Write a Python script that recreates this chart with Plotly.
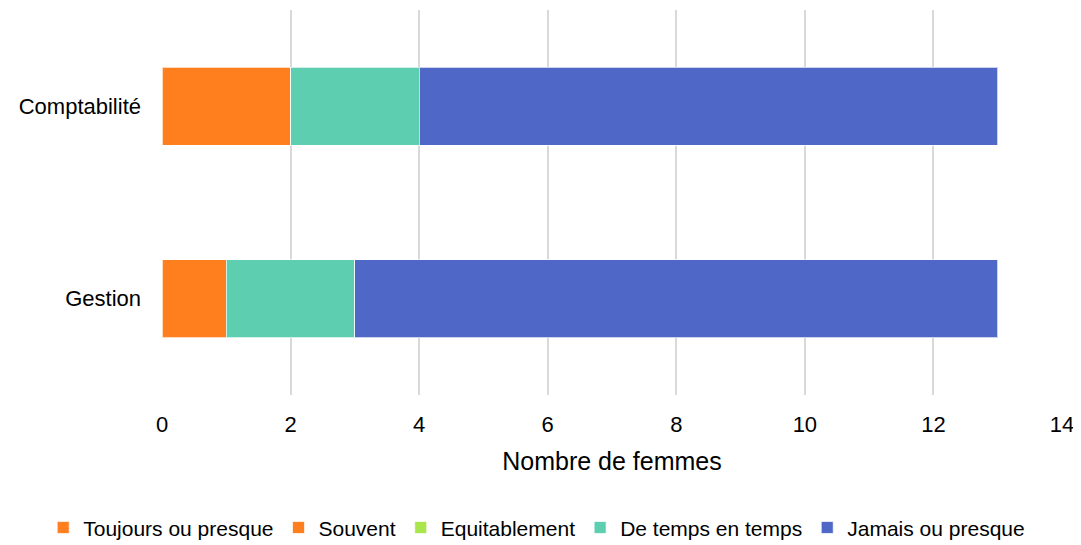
import plotly.graph_objects as go

categories = ["Gestion", "Comptabilité"]
series_names = ["Toujours ou presque", "Souvent", "Equitablement", "De temps en temps", "Jamais ou presque"]
toujours = [0, 0]
souvent = [1, 2]
equitablement = [0, 0]
temps = [2, 2]
jamais = [10, 9]
colors = ["#FF7F1F", "#FF7F1F", "#A9E54B", "#5DCEB0", "#4F68C7"]
x_ticks = [0, 2, 4, 6, 8, 10, 12, 14]

values = [toujours, souvent, equitablement, temps, jamais]

fig = go.Figure()
for name, vals, col in zip(series_names, values, colors):
    fig.add_trace(go.Bar(
        y=categories, x=vals, name=name, orientation="h",
        marker=dict(color=col, line=dict(color="rgba(255,255,255,0.7)", width=1)),
    ))

font = "Liberation Sans, Arial, sans-serif"
fig.update_layout(
    barmode="stack",
    bargap=0.595,
    width=1081, height=545,
    margin=dict(l=154, r=27, t=2, b=158),
    plot_bgcolor="white", paper_bgcolor="white",
    font=dict(family=font, size=22, color="#000000"),
    xaxis=dict(
        range=[0, 14], tickvals=x_ticks, showgrid=True, gridcolor="#D9D9D9", gridwidth=2,
        zeroline=False, showline=False, ticks="", ticklabelstandoff=14,
        title=dict(text="Nombre de femmes", font=dict(size=25), standoff=16),
        tickfont=dict(size=22),
    ),
    yaxis=dict(showgrid=False, zeroline=False, showline=False, ticks="", ticklabelstandoff=20,
               tickfont=dict(size=22)),
    legend=dict(orientation="h", xref="paper", yref="paper", x=-0.132, xanchor="left",
                y=-0.345, yanchor="middle", font=dict(size=21), itemwidth=30,
                traceorder="normal", tracegroupgap=0),
)
fig.write_html("out.html")
